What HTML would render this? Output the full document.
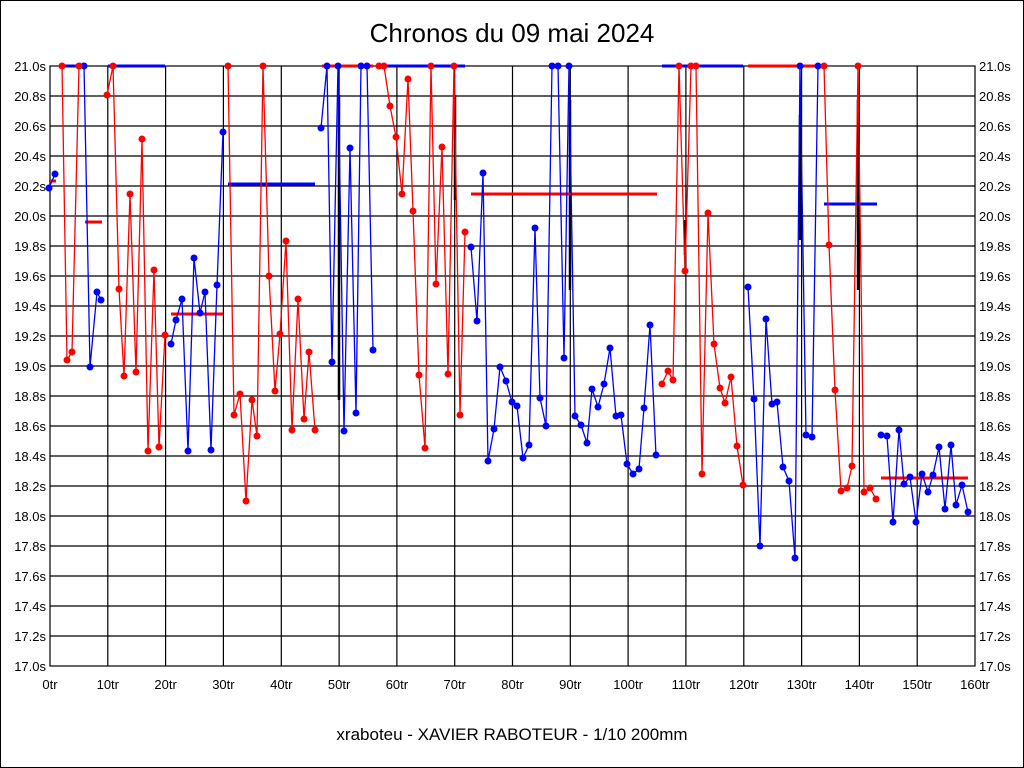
<!DOCTYPE html>
<html><head><meta charset="utf-8"><style>
html,body{margin:0;padding:0;background:#fff}
svg{display:block}
text{font-family:"Liberation Sans",sans-serif;fill:#000}
</style></head><body>
<svg width="1024" height="768" viewBox="0 0 1024 768" xmlns="http://www.w3.org/2000/svg">
<rect x="0.5" y="0.5" width="1023" height="767" fill="#fff" stroke="#000"/>
<text x="512" y="42" font-size="26" text-anchor="middle">Chronos du 09 mai 2024</text>
<text x="512" y="740" font-size="17" text-anchor="middle">xraboteu - XAVIER RABOTEUR - 1/10 200mm</text>
<g stroke="#000" stroke-width="1.2" fill="none">
<rect x="50" y="66" width="925" height="600"/>
<path d="M50 96H975M50 126H975M50 156H975M50 186H975M50 216H975M50 246H975M50 276H975M50 306H975M50 336H975M50 366H975M50 396H975M50 426H975M50 456H975M50 486H975M50 516H975M50 546H975M50 576H975M50 606H975M50 636H975"/>
<path d="M107.8 66V666M165.6 66V666M223.4 66V666M281.3 66V666M339.1 66V666M396.9 66V666M454.7 66V666M512.5 66V666M570.3 66V666M628.1 66V666M685.9 66V666M743.8 66V666M801.6 66V666M859.4 66V666M917.2 66V666"/>
</g>
<g stroke="#000" stroke-width="2.5">
<path d="M339 95V400M455 95V200M570 100V290M685 220V255M800 115V240M858 100V290"/>
</g>
<g font-size="13" text-anchor="end">
<text x="46" y="71">21.0s</text><text x="46" y="101">20.8s</text><text x="46" y="131">20.6s</text><text x="46" y="161">20.4s</text><text x="46" y="191">20.2s</text><text x="46" y="221">20.0s</text><text x="46" y="251">19.8s</text><text x="46" y="281">19.6s</text><text x="46" y="311">19.4s</text><text x="46" y="341">19.2s</text><text x="46" y="371">19.0s</text><text x="46" y="401">18.8s</text><text x="46" y="431">18.6s</text><text x="46" y="461">18.4s</text><text x="46" y="491">18.2s</text><text x="46" y="521">18.0s</text><text x="46" y="551">17.8s</text><text x="46" y="581">17.6s</text><text x="46" y="611">17.4s</text><text x="46" y="641">17.2s</text><text x="46" y="671">17.0s</text>
</g>
<g font-size="13" text-anchor="start">
<text x="979" y="71">21.0s</text><text x="979" y="101">20.8s</text><text x="979" y="131">20.6s</text><text x="979" y="161">20.4s</text><text x="979" y="191">20.2s</text><text x="979" y="221">20.0s</text><text x="979" y="251">19.8s</text><text x="979" y="281">19.6s</text><text x="979" y="311">19.4s</text><text x="979" y="341">19.2s</text><text x="979" y="371">19.0s</text><text x="979" y="401">18.8s</text><text x="979" y="431">18.6s</text><text x="979" y="461">18.4s</text><text x="979" y="491">18.2s</text><text x="979" y="521">18.0s</text><text x="979" y="551">17.8s</text><text x="979" y="581">17.6s</text><text x="979" y="611">17.4s</text><text x="979" y="641">17.2s</text><text x="979" y="671">17.0s</text>
</g>
<g font-size="13" text-anchor="middle">
<text x="50" y="689">0tr</text><text x="107.8" y="689">10tr</text><text x="165.6" y="689">20tr</text><text x="223.4" y="689">30tr</text><text x="281.3" y="689">40tr</text><text x="339.1" y="689">50tr</text><text x="396.9" y="689">60tr</text><text x="454.7" y="689">70tr</text><text x="512.5" y="689">80tr</text><text x="570.3" y="689">90tr</text><text x="628.1" y="689">100tr</text><text x="685.9" y="689">110tr</text><text x="743.8" y="689">120tr</text><text x="801.6" y="689">130tr</text><text x="859.4" y="689">140tr</text><text x="917.2" y="689">150tr</text><text x="975" y="689">160tr</text>
</g>
<!-- average lines -->
<g stroke-width="3">
<path stroke="#f00" d="M49 181H56M85 222H102M171 314H223M322 66H373M471 194H657M748 66H818M881 478H968"/>
<path stroke="#00f" d="M61 66H80M108 66H165M228 184H315M384 66H465M662 66H743M824 204H877"/>
</g>
<!-- series lines -->
<g fill="none" stroke-width="1.3" stroke-linejoin="round">
<polyline stroke="#00f" points="49,188 55,174"/>
<polyline stroke="#f00" points="62,66 67,360 72,352 79,66"/>
<polyline stroke="#00f" points="84,66 90,367 97,292 101,300"/>
<polyline stroke="#f00" points="107,95 113,66 119,289 124,376 130,194 136,372 142,139 148,451 154,270 159,447 165,335"/>
<polyline stroke="#00f" points="171,344 176,320 182,299 188,451 194,258 200,313 205,292 211,450 217,285 223,132"/>
<polyline stroke="#f00" points="228,66 234,415 240,394 246,501 252,400 257,436 263,66 269,276 275,391 280,334 286,241 292,430 298,299 304,419 309,352 315,430"/>
<polyline stroke="#00f" points="321,128 327,66 332,362 338,66 344,431 350,148 356,413 361,66 367,66 373,350"/>
<polyline stroke="#f00" points="379,66 384,66 390,106 396,137 402,194 408,79 413,211 419,375 425,448 431,66 436,284 442,147 448,374 454,66 460,415 465,232"/>
<polyline stroke="#00f" points="471,247 477,321 483,173 488,461 494,429 500,367 506,381 512,402 517,406 523,458 529,445 535,228 540,398 546,426 552,66 558,66 564,358 569,66 575,416 581,425 587,443 592,389 598,407 604,384 610,348 616,416 621,415 627,464 633,474 639,469 644,408 650,325 656,455"/>
<polyline stroke="#f00" points="662,384 668,371 673,380 679,66 685,271 691,66 696,66 702,474 708,213 714,344 720,388 725,403 731,377 737,446 743,485"/>
<polyline stroke="#00f" points="748,287 754,399 760,546 766,319 772,404 777,402 783,467 789,481 795,558 800,66 806,435 812,437 818,66"/>
<polyline stroke="#f00" points="824,66 829,245 835,390 841,491 847,488 852,466 858,66 864,492 870,488 876,499"/>
<polyline stroke="#00f" points="881,435 887,436 893,522 899,430 904,484 910,477 916,522 922,474 928,492 933,475 939,447 945,509 951,445 956,505 962,485 968,512"/>
</g>
<!-- markers -->
<g fill="#00f">
<circle cx="49" cy="188" r="3.5"/><circle cx="55" cy="174" r="3.5"/>
<circle cx="84" cy="66" r="3.5"/><circle cx="90" cy="367" r="3.5"/><circle cx="97" cy="292" r="3.5"/><circle cx="101" cy="300" r="3.5"/>
<circle cx="171" cy="344" r="3.5"/><circle cx="176" cy="320" r="3.5"/><circle cx="182" cy="299" r="3.5"/><circle cx="188" cy="451" r="3.5"/><circle cx="194" cy="258" r="3.5"/><circle cx="200" cy="313" r="3.5"/><circle cx="205" cy="292" r="3.5"/><circle cx="211" cy="450" r="3.5"/><circle cx="217" cy="285" r="3.5"/><circle cx="223" cy="132" r="3.5"/>
<circle cx="321" cy="128" r="3.5"/><circle cx="327" cy="66" r="3.5"/><circle cx="332" cy="362" r="3.5"/><circle cx="338" cy="66" r="3.5"/><circle cx="344" cy="431" r="3.5"/><circle cx="350" cy="148" r="3.5"/><circle cx="356" cy="413" r="3.5"/><circle cx="361" cy="66" r="3.5"/><circle cx="367" cy="66" r="3.5"/><circle cx="373" cy="350" r="3.5"/>
<circle cx="471" cy="247" r="3.5"/><circle cx="477" cy="321" r="3.5"/><circle cx="483" cy="173" r="3.5"/><circle cx="488" cy="461" r="3.5"/><circle cx="494" cy="429" r="3.5"/><circle cx="500" cy="367" r="3.5"/><circle cx="506" cy="381" r="3.5"/><circle cx="512" cy="402" r="3.5"/><circle cx="517" cy="406" r="3.5"/><circle cx="523" cy="458" r="3.5"/><circle cx="529" cy="445" r="3.5"/><circle cx="535" cy="228" r="3.5"/><circle cx="540" cy="398" r="3.5"/><circle cx="546" cy="426" r="3.5"/><circle cx="552" cy="66" r="3.5"/><circle cx="558" cy="66" r="3.5"/><circle cx="564" cy="358" r="3.5"/><circle cx="569" cy="66" r="3.5"/><circle cx="575" cy="416" r="3.5"/><circle cx="581" cy="425" r="3.5"/><circle cx="587" cy="443" r="3.5"/><circle cx="592" cy="389" r="3.5"/><circle cx="598" cy="407" r="3.5"/><circle cx="604" cy="384" r="3.5"/><circle cx="610" cy="348" r="3.5"/><circle cx="616" cy="416" r="3.5"/><circle cx="621" cy="415" r="3.5"/><circle cx="627" cy="464" r="3.5"/><circle cx="633" cy="474" r="3.5"/><circle cx="639" cy="469" r="3.5"/><circle cx="644" cy="408" r="3.5"/><circle cx="650" cy="325" r="3.5"/><circle cx="656" cy="455" r="3.5"/>
<circle cx="748" cy="287" r="3.5"/><circle cx="754" cy="399" r="3.5"/><circle cx="760" cy="546" r="3.5"/><circle cx="766" cy="319" r="3.5"/><circle cx="772" cy="404" r="3.5"/><circle cx="777" cy="402" r="3.5"/><circle cx="783" cy="467" r="3.5"/><circle cx="789" cy="481" r="3.5"/><circle cx="795" cy="558" r="3.5"/><circle cx="800" cy="66" r="3.5"/><circle cx="806" cy="435" r="3.5"/><circle cx="812" cy="437" r="3.5"/><circle cx="818" cy="66" r="3.5"/>
<circle cx="881" cy="435" r="3.5"/><circle cx="887" cy="436" r="3.5"/><circle cx="893" cy="522" r="3.5"/><circle cx="899" cy="430" r="3.5"/><circle cx="904" cy="484" r="3.5"/><circle cx="910" cy="477" r="3.5"/><circle cx="916" cy="522" r="3.5"/><circle cx="922" cy="474" r="3.5"/><circle cx="928" cy="492" r="3.5"/><circle cx="933" cy="475" r="3.5"/><circle cx="939" cy="447" r="3.5"/><circle cx="945" cy="509" r="3.5"/><circle cx="951" cy="445" r="3.5"/><circle cx="956" cy="505" r="3.5"/><circle cx="962" cy="485" r="3.5"/><circle cx="968" cy="512" r="3.5"/>
</g>
<g fill="#f00">
<circle cx="62" cy="66" r="3.5"/><circle cx="67" cy="360" r="3.5"/><circle cx="72" cy="352" r="3.5"/><circle cx="79" cy="66" r="3.5"/>
<circle cx="107" cy="95" r="3.5"/><circle cx="113" cy="66" r="3.5"/><circle cx="119" cy="289" r="3.5"/><circle cx="124" cy="376" r="3.5"/><circle cx="130" cy="194" r="3.5"/><circle cx="136" cy="372" r="3.5"/><circle cx="142" cy="139" r="3.5"/><circle cx="148" cy="451" r="3.5"/><circle cx="154" cy="270" r="3.5"/><circle cx="159" cy="447" r="3.5"/><circle cx="165" cy="335" r="3.5"/>
<circle cx="228" cy="66" r="3.5"/><circle cx="234" cy="415" r="3.5"/><circle cx="240" cy="394" r="3.5"/><circle cx="246" cy="501" r="3.5"/><circle cx="252" cy="400" r="3.5"/><circle cx="257" cy="436" r="3.5"/><circle cx="263" cy="66" r="3.5"/><circle cx="269" cy="276" r="3.5"/><circle cx="275" cy="391" r="3.5"/><circle cx="280" cy="334" r="3.5"/><circle cx="286" cy="241" r="3.5"/><circle cx="292" cy="430" r="3.5"/><circle cx="298" cy="299" r="3.5"/><circle cx="304" cy="419" r="3.5"/><circle cx="309" cy="352" r="3.5"/><circle cx="315" cy="430" r="3.5"/>
<circle cx="379" cy="66" r="3.5"/><circle cx="384" cy="66" r="3.5"/><circle cx="390" cy="106" r="3.5"/><circle cx="396" cy="137" r="3.5"/><circle cx="402" cy="194" r="3.5"/><circle cx="408" cy="79" r="3.5"/><circle cx="413" cy="211" r="3.5"/><circle cx="419" cy="375" r="3.5"/><circle cx="425" cy="448" r="3.5"/><circle cx="431" cy="66" r="3.5"/><circle cx="436" cy="284" r="3.5"/><circle cx="442" cy="147" r="3.5"/><circle cx="448" cy="374" r="3.5"/><circle cx="454" cy="66" r="3.5"/><circle cx="460" cy="415" r="3.5"/><circle cx="465" cy="232" r="3.5"/>
<circle cx="662" cy="384" r="3.5"/><circle cx="668" cy="371" r="3.5"/><circle cx="673" cy="380" r="3.5"/><circle cx="679" cy="66" r="3.5"/><circle cx="685" cy="271" r="3.5"/><circle cx="691" cy="66" r="3.5"/><circle cx="696" cy="66" r="3.5"/><circle cx="702" cy="474" r="3.5"/><circle cx="708" cy="213" r="3.5"/><circle cx="714" cy="344" r="3.5"/><circle cx="720" cy="388" r="3.5"/><circle cx="725" cy="403" r="3.5"/><circle cx="731" cy="377" r="3.5"/><circle cx="737" cy="446" r="3.5"/><circle cx="743" cy="485" r="3.5"/>
<circle cx="824" cy="66" r="3.5"/><circle cx="829" cy="245" r="3.5"/><circle cx="835" cy="390" r="3.5"/><circle cx="841" cy="491" r="3.5"/><circle cx="847" cy="488" r="3.5"/><circle cx="852" cy="466" r="3.5"/><circle cx="858" cy="66" r="3.5"/><circle cx="864" cy="492" r="3.5"/><circle cx="870" cy="488" r="3.5"/><circle cx="876" cy="499" r="3.5"/>
</g>
</svg>
</body></html>
